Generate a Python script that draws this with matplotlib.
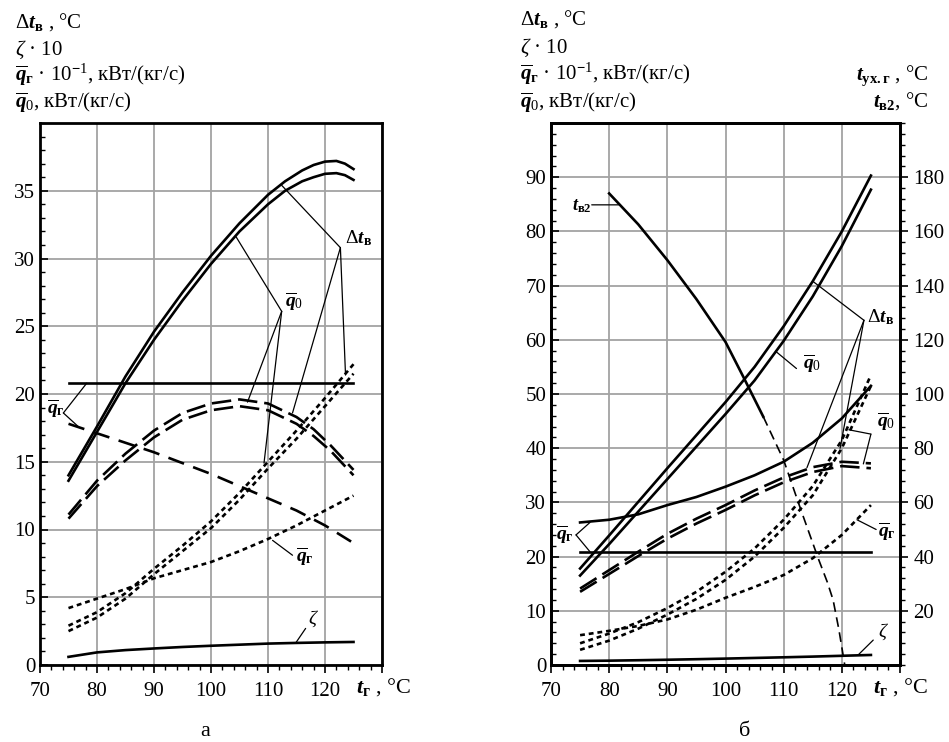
import matplotlib
matplotlib.use("Agg")
import matplotlib.pyplot as plt
from matplotlib.ticker import MultipleLocator

plt.rcParams['font.family'] = ['Liberation Serif', 'DejaVu Serif']
plt.rcParams['mathtext.fontset'] = 'custom'
plt.rcParams['mathtext.rm'] = 'Liberation Serif'
plt.rcParams['mathtext.it'] = 'Liberation Serif:italic'
plt.rcParams['mathtext.bf'] = 'Liberation Serif:bold'
plt.rcParams['mathtext.bfit'] = 'Liberation Serif:italic:bold'
plt.rcParams['lines.scale_dashes'] = False

# ---------------- data, panel a ----------------
a_dt_x = [75, 80, 85, 90, 95, 100, 105, 110, 113, 116, 118, 120, 122, 123.5, 125]
a_dt_up = [14.0, 17.6, 21.3, 24.6, 27.5, 30.2, 32.6, 34.7, 35.7, 36.5, 36.9, 37.15, 37.2, 37.0, 36.6]
a_dt_lo = [13.6, 17.2, 20.8, 24.0, 26.9, 29.6, 32.0, 34.0, 35.0, 35.7, 36.0, 36.25, 36.3, 36.15, 35.8]
a_arc_x = [75, 80, 85, 90, 95, 100, 105, 110, 115, 118, 121, 123, 125]
a_arc_up = [11.1, 13.6, 15.6, 17.3, 18.6, 19.3, 19.6, 19.3, 18.3, 17.4, 16.2, 15.3, 14.4]
a_arc_lo = [10.8, 13.2, 15.1, 16.8, 18.1, 18.8, 19.1, 18.8, 17.8, 16.9, 15.8, 14.9, 14.0]

a_x = [75, 80, 85, 90, 95, 100, 105, 110, 115, 120, 125]
a_qg_dash = [17.8, 17.1, 16.4, 15.7, 14.9, 14.1, 13.2, 12.3, 11.4, 10.3, 9.0]
a_qg_dot = [4.2, 4.9, 5.6, 6.4, 7.0, 7.6, 8.4, 9.3, 10.3, 11.4, 12.5]
a_dot_up = [2.9, 3.9, 5.3, 7.1, 8.8, 10.6, 12.7, 15.0, 17.3, 19.7, 22.2]
a_dot_lo = [2.5, 3.5, 4.9, 6.7, 8.4, 10.1, 12.2, 14.5, 16.7, 19.1, 21.5]
a_zeta = [0.6, 0.93, 1.1, 1.22, 1.33, 1.42, 1.5, 1.58, 1.63, 1.67, 1.7]
a_qg_flat = [20.8] * 11

# ---------------- data, panel b ----------------
b_x = [75, 80, 85, 90, 95, 100, 105, 110, 115, 120, 125]
b_dt_up = [17.8, 23.9, 30.1, 36.3, 42.4, 48.5, 55.0, 62.5, 70.8, 80.0, 90.3]
b_dt_lo = [16.5, 22.3, 28.3, 34.3, 40.3, 46.3, 52.5, 59.8, 68.0, 77.3, 87.7]
b_qg_curve = [26.3, 26.8, 27.8, 29.5, 31.0, 32.9, 35.0, 37.5, 41.0, 45.5, 51.5]
b_qg_flat = [20.9] * 11
b_arc_up = [14.1, 17.5, 20.9, 24.2, 27.0, 29.5, 32.2, 34.6, 36.5, 37.5, 37.2]
b_arc_lo = [13.5, 16.8, 20.1, 23.3, 26.1, 28.6, 31.3, 33.7, 35.6, 36.7, 36.3]
b_qg_dot = [5.5, 6.3, 7.2, 8.4, 10.2, 12.4, 14.4, 16.6, 19.7, 24.0, 29.5]
b_dot_up = [4.0, 5.8, 7.9, 10.5, 13.5, 17.2, 21.5, 26.8, 33.0, 41.5, 53.5]
b_dot_lo = [2.8, 4.5, 6.7, 9.3, 12.2, 15.7, 20.0, 25.3, 31.3, 40.0, 51.5]
b_zeta = [0.75, 0.8, 0.88, 0.97, 1.07, 1.18, 1.3, 1.42, 1.55, 1.7, 1.85]

tv2_solid_x = [80, 85, 90, 95, 100, 103, 106.5]
tv2_solid_y = [87.0, 81.3, 74.7, 67.5, 59.6, 53.3, 45.8]
tv2_dash_x = [106.5, 110, 113, 116, 117.5, 118.5, 119.5, 120.5]
tv2_dash_y = [45.8, 37.8, 28.5, 19.5, 15.3, 12.0, 6.5, 0.0]

x_ticks = [70, 80, 90, 100, 110, 120, 130]
x_labels = ['70', '80', '90', '100', '110', '120', '']

fig = plt.figure(figsize=(9.49, 7.42), dpi=100)
ax1 = fig.add_axes([40 / 949, 77 / 742, 342 / 949, 542 / 742])
ax2 = fig.add_axes([551 / 949, 77 / 742, 349 / 949, 542 / 742])

LW = 1.9
DOT = (0, (3.5, 2.8))
LONG = (0, (14, 5))
MED = (0, (12, 7))


def setup(ax, ymax, ystep, yminor):
    ax.set_xlim(70, 130)
    ax.set_ylim(0, ymax)
    ax.set_xticks(x_ticks)
    ax.set_xticklabels(x_labels)
    ax.set_yticks(list(range(0, ymax, ystep)))
    ax.xaxis.set_minor_locator(MultipleLocator(2))
    ax.yaxis.set_minor_locator(MultipleLocator(yminor))
    ax.grid(True, which='major', color='#a3a3a3', lw=1.3)
    ax.set_axisbelow(True)
    ax.tick_params(axis='x', which='both', direction='out', labelsize=15, pad=6)
    ax.tick_params(axis='x', which='major', length=6, width=1.2)
    ax.tick_params(axis='x', which='minor', length=3.5, width=1.0)
    ax.tick_params(axis='y', which='both', direction='in', labelsize=15)
    ax.tick_params(axis='y', which='major', length=6, width=1.2)
    ax.tick_params(axis='y', which='minor', length=3.5, width=1.0)
    for s in ax.spines.values():
        s.set_linewidth(2.0)
    ax.text(125.4, -0.04, r'$\mathbfit{t}_{\mathbf{г}}$ , °C', transform=ax.get_xaxis_transform(),
            fontsize=16, ha='left', va='center')


def leader(ax, start, end):
    ax.annotate('', xy=end, xytext=start,
                arrowprops=dict(arrowstyle='-', lw=0.9, color='black', shrinkA=0, shrinkB=0))


setup(ax1, 40, 5, 1)
setup(ax2, 100, 10, 2)

# ---- panel a curves ----
ax1.plot(a_dt_x, a_dt_up, color='black', lw=LW)
ax1.plot(a_dt_x, a_dt_lo, color='black', lw=LW)
ax1.plot(a_arc_x, a_arc_up, color='black', lw=LW, linestyle=LONG)
ax1.plot(a_arc_x, a_arc_lo, color='black', lw=LW, linestyle=LONG)
ax1.plot(a_x, a_qg_flat, color='black', lw=LW)
ax1.plot(a_x, a_qg_dash, color='black', lw=LW, linestyle=MED)
ax1.plot(a_x, a_qg_dot, color='black', lw=LW, linestyle=DOT)
ax1.plot(a_x, a_dot_up, color='black', lw=LW, linestyle=DOT)
ax1.plot(a_x, a_dot_lo, color='black', lw=LW, linestyle=DOT)
ax1.plot(a_x, a_zeta, color='black', lw=LW)

ax1.text(123.5, 31.5, r'$\Delta\mathbfit{t}_{\mathbf{в}}$', fontsize=14, ha='left', va='center')
leader(ax1, (122.7, 30.8), (112.4, 35.4))
leader(ax1, (122.7, 30.8), (114.3, 18.6))
leader(ax1, (122.7, 30.8), (123.6, 21.4))
ax1.text(113.0, 26.8, r'$\overline{\mathbfit{q}}_{0}$', fontsize=14, ha='left', va='center')
leader(ax1, (112.4, 26.1), (104.4, 31.6))
leader(ax1, (112.4, 26.1), (106.4, 19.4))
leader(ax1, (112.4, 26.1), (109.3, 14.9))
ax1.text(71.3, 18.9, r'$\overline{\mathbfit{q}}_{\mathbf{г}}$', fontsize=14, ha='left', va='center')
leader(ax1, (74.1, 18.6), (78.2, 20.8))
leader(ax1, (74.1, 18.6), (76.7, 17.6))
ax1.text(114.9, 8.0, r'$\overline{\mathbfit{q}}_{\mathbf{г}}$', fontsize=14, ha='left', va='center')
leader(ax1, (114.3, 8.1), (110.8, 9.2))
ax1.text(117.0, 3.4, r'$\zeta$', fontsize=14, ha='left', va='center')
leader(ax1, (116.6, 2.7), (114.9, 1.65))

# ---- panel b curves ----
ax2.plot(b_x, b_dt_up, color='black', lw=LW)
ax2.plot(b_x, b_dt_lo, color='black', lw=LW)
ax2.plot(b_x, b_qg_curve, color='black', lw=LW)
ax2.plot(b_x, b_qg_flat, color='black', lw=LW)
ax2.plot(b_x, b_arc_up, color='black', lw=LW, linestyle=LONG)
ax2.plot(b_x, b_arc_lo, color='black', lw=LW, linestyle=LONG)
ax2.plot(b_x, b_qg_dot, color='black', lw=LW, linestyle=DOT)
ax2.plot(b_x, b_dot_up, color='black', lw=LW, linestyle=DOT)
ax2.plot(b_x, b_dot_lo, color='black', lw=LW, linestyle=DOT)
ax2.plot(b_x, b_zeta, color='black', lw=LW)
ax2.plot(tv2_solid_x, tv2_solid_y, color='black', lw=LW)
ax2.plot(tv2_dash_x, tv2_dash_y, color='black', lw=1.2, linestyle=(0, (7, 4)))

ax2.text(73.6, 84.7, r'$\mathbfit{t}_{\mathbf{в2}}$', fontsize=13, ha='left', va='center')
leader(ax2, (77.0, 84.9), (81.6, 84.9))
ax2.text(113.4, 55.6, r'$\overline{\mathbfit{q}}_{0}$', fontsize=14, ha='left', va='center')
leader(ax2, (112.2, 54.7), (108.6, 57.9))
ax2.text(124.3, 64.2, r'$\Delta\mathbfit{t}_{\mathbf{в}}$', fontsize=14, ha='left', va='center')
leader(ax2, (123.8, 63.6), (115.0, 70.8))
leader(ax2, (123.8, 63.6), (114.0, 36.4))
leader(ax2, (123.8, 63.6), (119.7, 40.0))
ax2.text(126.0, 44.8, r'$\overline{\mathbfit{q}}_{0}$', fontsize=14, ha='left', va='center')
leader(ax2, (125.0, 42.6), (121.2, 43.4))
leader(ax2, (125.0, 42.6), (123.7, 37.1))
ax2.text(126.2, 24.6, r'$\overline{\mathbfit{q}}_{\mathbf{г}}$', fontsize=14, ha='left', va='center')
leader(ax2, (125.9, 25.0), (122.6, 26.8))
ax2.text(70.9, 24.0, r'$\overline{\mathbfit{q}}_{\mathbf{г}}$', fontsize=14, ha='left', va='center')
leader(ax2, (74.3, 24.0), (76.7, 26.3))
leader(ax2, (74.3, 24.0), (76.7, 20.9))
ax2.text(126.2, 6.2, r'$\zeta$', fontsize=14, ha='left', va='center')
leader(ax2, (125.4, 4.6), (122.8, 1.85))

# right-hand temperature axis
ax2r = ax2.twinx()
ax2r.set_ylim(0, 200)
ax2r.set_yticks(list(range(20, 200, 20)))
ax2r.yaxis.set_minor_locator(MultipleLocator(4))
ax2r.tick_params(axis='y', which='both', direction='out', labelsize=15)
ax2r.tick_params(axis='y', which='major', length=6, width=1.2)
ax2r.tick_params(axis='y', which='minor', length=3.5, width=1.0)
for s in ax2r.spines.values():
    s.set_linewidth(2.0)

# headers
FS = 15
left_head = [r'$\Delta\mathbfit{t}_{\mathbf{в}}$ , °C',
             r'$\zeta$ · 10',
             r'$\overline{\mathbfit{q}}_{\mathbf{г}}$ · 10$^{\mathbf{-}1}$, кВт/(кг/с)',
             r'$\overline{\mathbfit{q}}_{0}$, кВт/(кг/с)']
for i, s in enumerate(left_head):
    fig.text(15 / 949, 1 - (28 + 26.5 * i) / 742, s, fontsize=FS, ha='left', va='baseline')
    fig.text(520 / 949, 1 - (25 + 27.5 * i) / 742, s, fontsize=FS, ha='left', va='baseline')
fig.text(928 / 949, 1 - 80 / 742, r'$\mathbfit{t}_{\mathbf{ух.г}}$ , °C', fontsize=FS, ha='right', va='baseline')
fig.text(928 / 949, 1 - 107 / 742, r'$\mathbfit{t}_{\mathbf{в2}}$, °C', fontsize=FS, ha='right', va='baseline')

fig.text(205 / 949, 1 - 732 / 742, 'а', fontsize=16, ha='center', va='center')
fig.text(745 / 949, 1 - 732 / 742, 'б', fontsize=16, ha='center', va='center')

fig.savefig('out.png', dpi=100)
